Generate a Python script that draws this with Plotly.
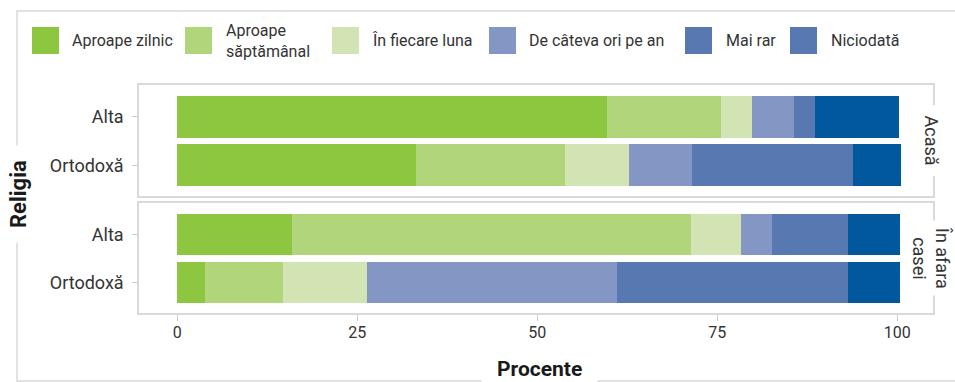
import plotly.graph_objects as go

W, H = 955, 382

# Response categories (stack order, left to right)
categories = ["Aproape zilnic", "Aproape săptămânal", "În fiecare luna",
              "De câteva ori pe an", "Mai rar", "Niciodată"]
legend_labels = ["Aproape zilnic", "Aproape<br>săptămânal", "În fiecare luna",
                 "De câteva ori pe an", "Mai rar", "Niciodată"]
religions = ["Ortodoxă", "Alta"]
facets = ["Acasă", "În afara<br>casei"]

# Percent values per religion, one list per category
acasa_alta = [59.7, 15.8, 4.4, 5.8, 2.9, 11.7]
acasa_ortodoxa = [33.2, 20.6, 8.9, 8.8, 22.4, 6.6]
afara_alta = [16.0, 55.4, 6.9, 4.3, 10.6, 7.2]
afara_ortodoxa = [3.9, 10.8, 11.7, 34.7, 32.1, 7.2]

x_ticks = [0, 25, 50, 75, 100]

bar_colors = ["#8DC63F", "#B0D57A", "#D2E4B3", "#8496C4", "#5878B2", "#02589C"]
swatch_colors = ["#8DC63F", "#B0D57A", "#D2E4B3", "#8496C4", "#5878B2", "#5878B2"]

FONT = "Roboto"
TXT = "#333333"
GRID = "#d9d9d9"


def px_x(p):
    return p / W


def px_y(p):
    return 1 - p / H


panels = [
    dict(alta=acasa_alta, orto=acasa_ortodoxa, top=85, bottom=196),
    dict(alta=afara_alta, orto=afara_ortodoxa, top=203, bottom=313),
]

fig = go.Figure()
for i, panel in enumerate(panels):
    xa = "x" if i == 0 else "x2"
    ya = "y" if i == 0 else "y2"
    for k, cat in enumerate(categories):
        fig.add_trace(go.Bar(
            y=religions,
            x=[panel["orto"][k], panel["alta"][k]],
            orientation="h",
            name=cat,
            marker=dict(color=bar_colors[k], line=dict(width=0)),
            width=0.86,
            xaxis=xa, yaxis=ya,
            showlegend=False,
            hoverinfo="x+y+name",
        ))

x_dom = [px_x(139), px_x(932.5)]
axis_common = dict(
    showline=True, mirror=True, linecolor=GRID, linewidth=1.5,
    showgrid=False, zeroline=False,
)
layout_axes = {}
for i, panel in enumerate(panels):
    sx = "" if i == 0 else "2"
    layout_axes["xaxis" + sx] = dict(
        domain=x_dom, range=[-5.3, 104.9],
        tickmode="array", tickvals=x_ticks,
        ticks="outside" if i == 1 else "", ticklen=6, tickcolor="#cccccc",
        showticklabels=(i == 1),
        ticklabelstandoff=-2,
        tickfont=dict(family=FONT, size=16, color=TXT),
        anchor="y" + sx if sx else "y",
        **axis_common,
    )
    layout_axes["yaxis" + sx] = dict(
        domain=[px_y(panel["bottom"]), px_y(panel["top"])],
        type="category", categoryorder="array", categoryarray=religions,
        range=[-0.63, 1.65],
        ticks="outside", ticklen=5, tickcolor="#cccccc",
        ticklabelstandoff=5,
        tickfont=dict(family=FONT, size=18, color=TXT),
        anchor="x" + sx if sx else "x",
        **axis_common,
    )

shapes = [
    # frame around the whole chart
    dict(type="rect", xref="paper", yref="paper",
         x0=px_x(17), x1=px_x(975), y0=px_y(381), y1=px_y(11),
         line=dict(color=GRID, width=1.5), fillcolor="rgba(0,0,0,0)",
         layer="below"),
]

annotations = []

# Legend: swatches and labels
sw_x = [32, 185, 332, 489, 685, 790]
lb_x = [70, 224, 370, 527, 724, 829]
for k, lab in enumerate(legend_labels):
    shapes.append(dict(type="rect", xref="paper", yref="paper",
                       x0=px_x(sw_x[k]), x1=px_x(sw_x[k] + 27),
                       y0=px_y(54), y1=px_y(27),
                       fillcolor=swatch_colors[k], line=dict(width=0)))
    annotations.append(dict(text=lab, xref="paper", yref="paper",
                            x=px_x(lb_x[k]), y=px_y(40.5),
                            xanchor="left", yanchor="middle", showarrow=False,
                            align="left",
                            font=dict(family=FONT, size=16, color=TXT)))

# Facet strip labels
for i, panel in enumerate(panels):
    annotations.append(dict(
        text=facets[i], xref="paper", yref="paper",
        x=px_x(931), y=px_y((panel["top"] + panel["bottom"]) / 2),
        xanchor="center", yanchor="middle", showarrow=False, textangle=90,
        font=dict(family=FONT, size=18, color=TXT),
        bgcolor="white", borderpad=10 if i == 0 else 6,
    ))

# Axis titles
annotations.append(dict(
    text="<b>Religia</b>", xref="paper", yref="paper",
    x=px_x(18), y=px_y(194), xanchor="center", yanchor="middle",
    showarrow=False, textangle=-90, bgcolor="white", borderpad=14,
    font=dict(family=FONT, size=22, color="#1a1a1a"),
))
annotations.append(dict(
    text="<b>Procente</b>", xref="paper", yref="paper",
    x=px_x(539), y=px_y(369), xanchor="center", yanchor="middle",
    showarrow=False, bgcolor="white", borderpad=15,
    font=dict(family=FONT, size=21, color="#1a1a1a"),
))

fig.update_layout(
    width=W, height=H,
    margin=dict(l=0, r=0, t=0, b=0),
    paper_bgcolor="white", plot_bgcolor="white",
    barmode="stack", bargap=0,
    showlegend=False,
    shapes=shapes, annotations=annotations,
    **layout_axes,
)

fig.write_html("out.html")
